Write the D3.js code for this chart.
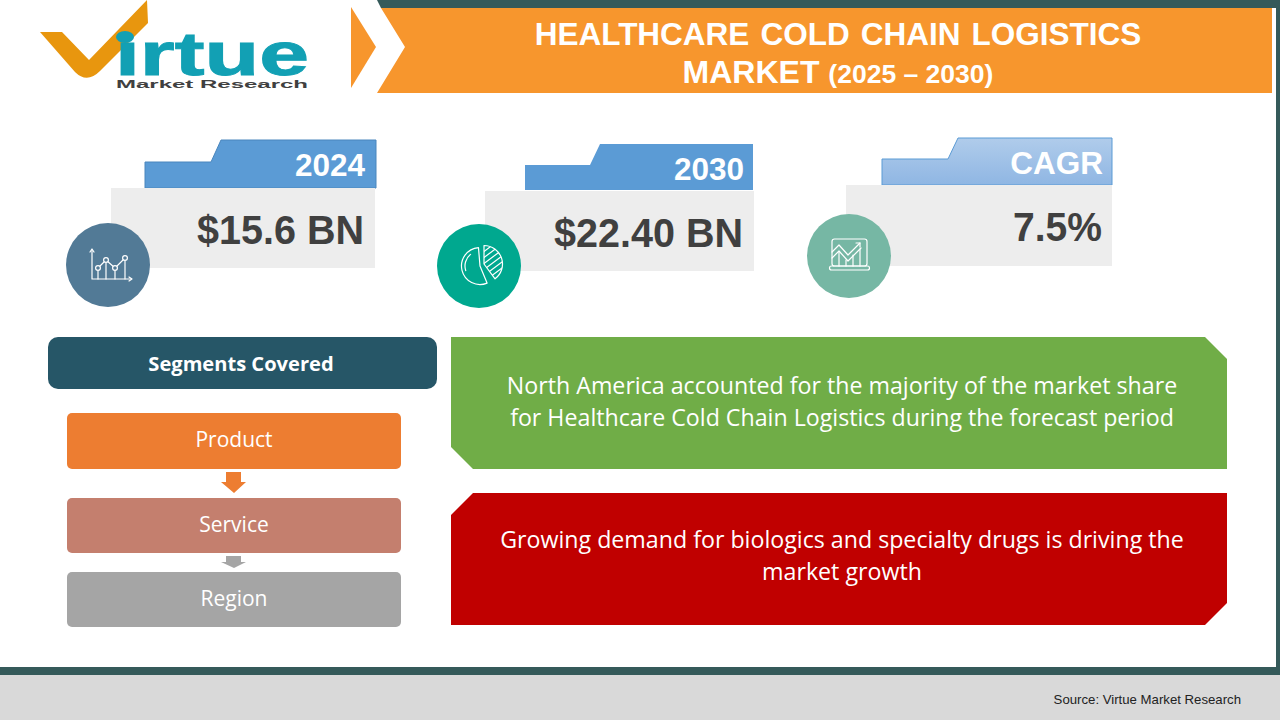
<!DOCTYPE html>
<html>
<head>
<meta charset="utf-8">
<script src="https://cdn.jsdelivr.net/npm/d3@7"></script>
<style>
	html, body { margin: 0; padding: 0; background: #fff; overflow: hidden; }
	svg { display: block; }
</style>
</head>
<body>
<svg id="chart"></svg>
<script>
// data
var titleLine = 'HEALTHCARE COLD CHAIN LOGISTICS';
var titleMarket = 'MARKET';
var titleYears = '(2025 – 2030)';
var cardLabels = ['2024', '2030', 'CAGR'];
var cardValues = ['$15.6 BN', '$22.40 BN', '7.5%'];
var segmentHeader = 'Segments Covered';
var segmentNames = ['Product', 'Service', 'Region'];
var noteGreen = ['North America accounted for the majority of the market share', 'for Healthcare Cold Chain Logistics during the forecast period'];
var noteRed = ['Growing demand for biologics and specialty drugs is driving the', 'market growth'];
var sourceText = 'Source: Virtue Market Research';

var width = 1280;
var height = 720;
var sans = '"Liberation Sans", Arial, sans-serif';
var body = '"Open Sans", "Noto Sans", sans-serif';
var teal = '#355a5a';
var orange = '#f7962d';

var svg = d3.select('#chart').attr('width', width).attr('height', height);
var defs = svg.append('defs');

var grad = defs.append('linearGradient').attr('id', 'cagrFill').attr('x1', 0).attr('y1', 0).attr('x2', 0).attr('y2', 1);
grad.append('stop').attr('offset', '0%').attr('stop-color', '#b0cceb');
grad.append('stop').attr('offset', '100%').attr('stop-color', '#8fb6e3');

var line = d3.line();
function poly(parent, pts, fill) {
	return parent.append('path').attr('d', line(pts) + 'Z').attr('fill', fill);
}

// frame
svg.append('rect').attr('width', width).attr('height', height).attr('fill', '#fff');
svg.append('rect').attr('x', 1276).attr('y', 0).attr('width', 4).attr('height', 675).attr('fill', teal);
svg.append('rect').attr('x', 0).attr('y', 667).attr('width', width).attr('height', 8).attr('fill', teal);
svg.append('rect').attr('x', 0).attr('y', 675).attr('width', width).attr('height', 45).attr('fill', '#d9d9d9');
poly(svg, [[377, 0], [1280, 0], [1280, 8], [381, 8]], teal);

// banner
poly(svg, [[351, 7], [376, 47], [351, 88]], orange);
poly(svg, [[381, 8], [1272, 8], [1272, 93], [377, 93], [405, 47]], orange);

svg.append('text')
	.attr('x', 838).attr('y', 45)
	.attr('text-anchor', 'middle')
	.attr('font-family', sans).attr('font-weight', 700).attr('font-size', 31.5)
	.attr('word-spacing', 2.3)
	.attr('fill', '#fff')
	.text(titleLine);

var market = svg.append('text')
	.attr('x', 838).attr('y', 83)
	.attr('text-anchor', 'middle')
	.attr('font-family', sans).attr('font-weight', 700)
	.attr('fill', '#fff');
market.append('tspan').attr('font-size', 32).text(titleMarket + ' ');
market.append('tspan').attr('font-size', 26.5).text(titleYears);

// logo
var logo = svg.append('g');
logo.append('path')
	.attr('d', 'M40,32L62,32L89,60L147,0L148,23L100,71Q87,84 75,72Z')
	.attr('fill', '#e8960e');
logo.append('text')
	.attr('x', 115).attr('y', 75)
	.attr('font-family', sans).attr('font-weight', 700).attr('font-size', 62)
	.attr('textLength', 194).attr('lengthAdjust', 'spacingAndGlyphs')
	.attr('fill', '#12a0b4').attr('stroke', '#12a0b4').attr('stroke-width', 1)
	.text('ırtue');
logo.append('ellipse').attr('cx', 125).attr('cy', 37).attr('rx', 9).attr('ry', 6).attr('fill', '#12a0b4');
logo.append('text')
	.attr('x', 116).attr('y', 87.5)
	.attr('font-family', sans).attr('font-weight', 700).attr('font-size', 11.5)
	.attr('textLength', 192).attr('lengthAdjust', 'spacingAndGlyphs')
	.attr('fill', '#404040')
	.text('Market Research');

// cards
var cardBoxes = [
	{ tab: [[145, 188], [145, 162], [211, 162], [221, 140], [376, 140], [376, 188]], tabFill: '#5b9bd5', tabStroke: '#4a86bd',
		gx: 111, gy: 188, gw: 264, gh: 80, cx: 108, cy: 265, circle: '#527a96', labelX: 365, labelY: 176, labelSize: 31.5, valueX: 364, valueY: 244, valueW: 167 },
	{ tab: [[525, 190], [525, 165], [590, 165], [600, 144], [753, 144], [753, 190]], tabFill: '#5b9bd5', tabStroke: 'none',
		gx: 485, gy: 191, gw: 269, gh: 80, cx: 479, cy: 266, circle: '#00a88f', labelX: 744, labelY: 180, labelSize: 31.5, valueX: 743, valueY: 247, valueW: 189 },
	{ tab: [[882, 185], [882, 159], [948, 159], [958, 138], [1112, 138], [1112, 185]], tabFill: 'url(#cagrFill)', tabStroke: '#5b9bd5',
		gx: 846, gy: 185, gw: 266, gh: 81, cx: 849, cy: 256, circle: '#76b7a4', labelX: 1103, labelY: 174, labelSize: 31.5, valueX: 1102, valueY: 241, valueW: 89 }
];

cardBoxes.forEach(function(c, i) {
	var g = svg.append('g');
	poly(g, c.tab, c.tabFill).attr('stroke', c.tabStroke).attr('stroke-width', 1);
	g.append('rect').attr('x', c.gx).attr('y', c.gy).attr('width', c.gw).attr('height', c.gh).attr('fill', '#ededed');
	g.append('circle').attr('cx', c.cx).attr('cy', c.cy).attr('r', 42).attr('fill', c.circle);
	g.append('text')
		.attr('x', c.labelX).attr('y', c.labelY).attr('text-anchor', 'end')
		.attr('font-family', sans).attr('font-weight', 700).attr('font-size', c.labelSize)
		.attr('fill', '#fff')
		.text(cardLabels[i]);
	g.append('text')
		.attr('x', c.valueX).attr('y', c.valueY).attr('text-anchor', 'end')
		.attr('font-family', sans).attr('font-weight', 700).attr('font-size', 41)
		.attr('textLength', c.valueW).attr('lengthAdjust', 'spacingAndGlyphs')
		.attr('fill', '#404040')
		.text(cardValues[i]);
});

function iconGroup() {
	return svg.append('g').attr('fill', 'none').attr('stroke', '#fff').attr('stroke-width', 1.2)
		.attr('stroke-linecap', 'round').attr('stroke-linejoin', 'round');
}

// icon: line chart
var ic1 = iconGroup();
var ic1Pts = [[98, 268], [106, 260], [115, 268], [125, 258]];
ic1.append('path').attr('d', line([[92, 250], [92, 279], [131, 279]]));
ic1.append('path').attr('d', line([[90, 252], [92, 249], [94, 252]]));
ic1.append('path').attr('d', line([[129, 277], [132, 279], [129, 281]]));
ic1.append('path').attr('d', line(ic1Pts));
ic1Pts.forEach(function(p) {
	ic1.append('line').attr('x1', p[0]).attr('x2', p[0]).attr('y1', p[1] + 3).attr('y2', 279);
	ic1.append('circle').attr('cx', p[0]).attr('cy', p[1]).attr('r', 2.4).attr('fill', '#527a96');
});

// icon: pie
var ic2 = iconGroup();
var pieArc = d3.arc().innerRadius(0).outerRadius(18.5);
ic2.append('path')
	.attr('transform', 'translate(480,266)')
	.attr('d', pieArc({ startAngle: 2.75, endAngle: 6.2 }));
ic2.append('path')
	.attr('d', d3.arc().innerRadius(15).outerRadius(15)({ startAngle: 4.4, endAngle: 5.6 }))
	.attr('transform', 'translate(480,266)');
defs.append('clipPath').attr('id', 'pieClip').append('path')
	.attr('transform', 'translate(484,264)')
	.attr('d', pieArc({ startAngle: 0, endAngle: 2.5 }));
ic2.append('path')
	.attr('transform', 'translate(484,264)')
	.attr('d', pieArc({ startAngle: 0, endAngle: 2.5 }));
var hatch = ic2.append('g').attr('clip-path', 'url(#pieClip)');
d3.range(0, 8).forEach(function(k) {
	hatch.append('line')
		.attr('x1', 478).attr('y1', 256 + k * 6)
		.attr('x2', 510).attr('y2', 232 + k * 6);
});

// icon: laptop
var ic3 = iconGroup();
ic3.append('rect').attr('x', 832).attr('y', 239).attr('width', 35).attr('height', 27).attr('rx', 2.5);
ic3.append('rect').attr('x', 829.5).attr('y', 266).attr('width', 40).attr('height', 4).attr('rx', 2);
ic3.append('path').attr('d', line([[832, 252], [839, 245], [848, 255], [860, 243]]));
ic3.append('path').attr('d', line([[856, 243], [860, 243], [860, 247]]));
ic3.append('path').attr('d', line([[832, 258], [839, 251], [848, 261], [861, 248]]));
[[839, 252], [846, 260], [853, 255], [860, 249]].forEach(function(b) {
	ic3.append('line').attr('x1', b[0]).attr('x2', b[0]).attr('y1', b[1]).attr('y2', 266);
});

// segments
svg.append('rect').attr('x', 48).attr('y', 337).attr('width', 389).attr('height', 52).attr('rx', 10).attr('fill', '#265667');
svg.append('text')
	.attr('x', 241).attr('y', 371).attr('text-anchor', 'middle')
	.attr('font-family', body).attr('font-weight', 700).attr('font-size', 20.1)
	.attr('fill', '#fff')
	.text(segmentHeader);

var segmentBoxes = [
	{ y: 413, h: 56, fill: '#ed7d31', base: 447 },
	{ y: 498, h: 55, fill: '#c47f6e', base: 532 },
	{ y: 572, h: 55, fill: '#a5a5a5', base: 606 }
];
svg.selectAll('.segBox').data(segmentNames).enter().append('rect')
	.attr('class', 'segBox')
	.attr('x', 67).attr('width', 334)
	.attr('y', function(d, i) { return segmentBoxes[i].y; })
	.attr('height', function(d, i) { return segmentBoxes[i].h; })
	.attr('rx', 5)
	.attr('fill', function(d, i) { return segmentBoxes[i].fill; });
svg.selectAll('.segText').data(segmentNames).enter().append('text')
	.attr('class', 'segText')
	.attr('x', 234)
	.attr('y', function(d, i) { return segmentBoxes[i].base; })
	.attr('text-anchor', 'middle')
	.attr('font-family', body).attr('font-size', 21)
	.attr('fill', '#fff')
	.text(function(d) { return d; });

poly(svg, [[226, 472], [241, 472], [241, 482], [246, 482], [234, 493], [221, 482], [226, 482]], '#ed7d31');
poly(svg, [[226, 556], [241, 556], [241, 562], [246, 562], [234, 568], [221, 562], [226, 562]], '#a5a5a5');

// notes
poly(svg, [[451, 337], [1205, 337], [1227, 359], [1227, 469], [473, 469], [451, 447]], '#70ad47');
poly(svg, [[473, 493], [1227, 493], [1227, 603], [1205, 625], [451, 625], [451, 515]], '#c00000');

function noteText(lines, firstBase) {
	lines.forEach(function(t, i) {
		svg.append('text')
			.attr('x', 842).attr('y', firstBase + i * 32)
			.attr('text-anchor', 'middle')
			.attr('font-family', body).attr('font-size', 23.2)
			.attr('fill', '#fff')
			.text(t);
	});
}
noteText(noteGreen, 394);
noteText(noteRed, 548);

// source
svg.append('text')
	.attr('x', 1241).attr('y', 704).attr('text-anchor', 'end')
	.attr('font-family', sans).attr('font-size', 13.2)
	.attr('fill', '#222')
	.text(sourceText);
</script>
</body>
</html>
